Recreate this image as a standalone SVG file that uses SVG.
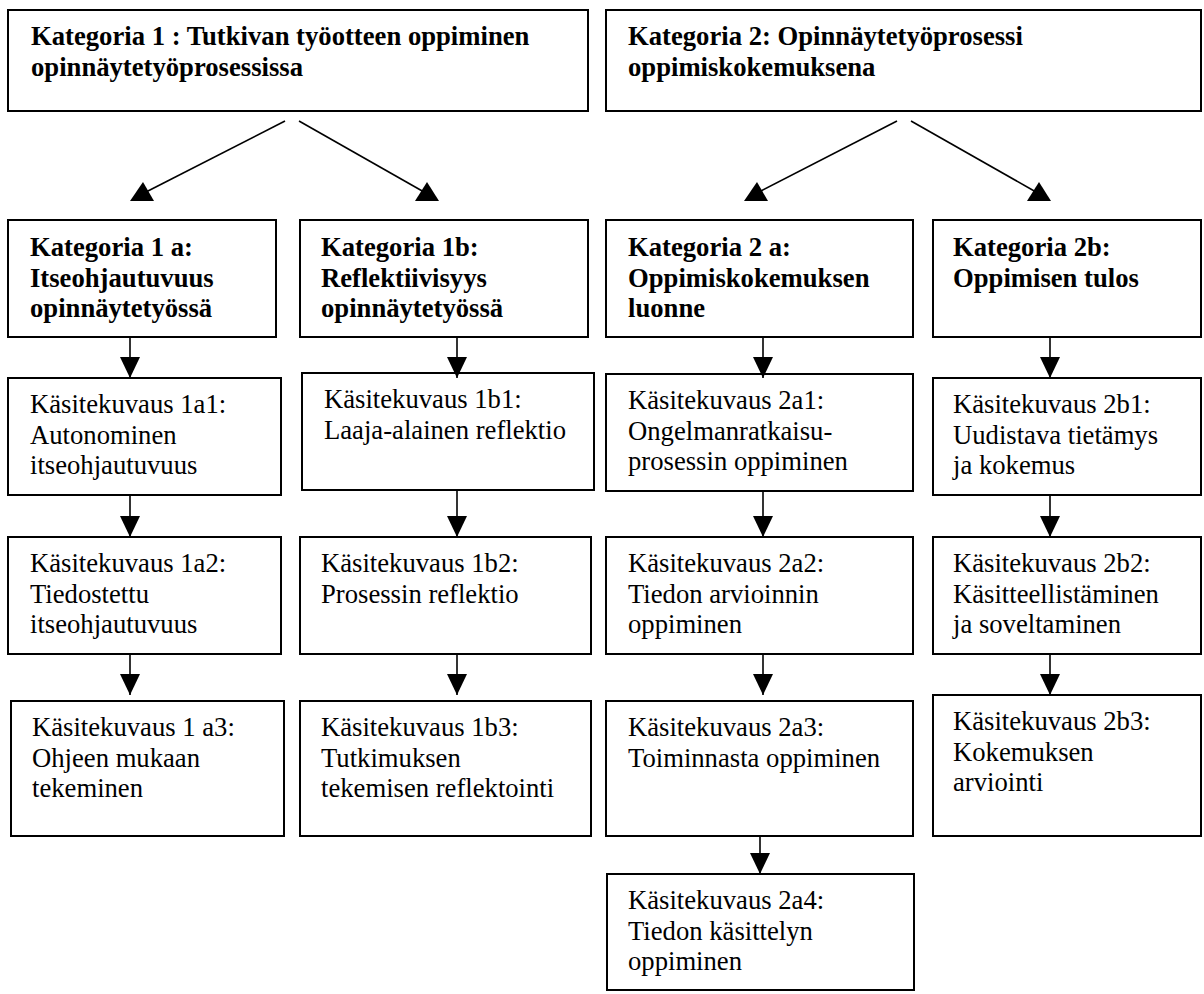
<svg xmlns="http://www.w3.org/2000/svg" width="1204" height="994" viewBox="0 0 1204 994">
  <style>
    .box { fill: #fff; stroke: #000; stroke-width: 2; }
    .t { font-size: 26.67px; fill: #000; }
    .b { font-weight: bold; }
    .ln { stroke: #000; stroke-width: 1.6; fill: none; }
    .hd { fill: #000; stroke: none; }
  </style>
  <defs>
    <marker id="down" markerUnits="userSpaceOnUse" viewBox="0 0 21 20" refX="21" refY="10" markerWidth="21" markerHeight="20" orient="auto">
      <path d="M0,0 L21,10 L0,20 z" fill="#000"/>
    </marker>
  </defs>
  <rect width="1204" height="994" fill="#fff"/>

  <g font-family="Liberation Serif, Tinos, Nimbus Roman, Times New Roman, Times, DejaVu Serif, serif">
  <!-- category 1 -->
  <g id="k1">
    <rect class="box" x="8" y="10" width="580" height="101"/>
    <text class="t b" x="31" y="45"><tspan x="31">Kategoria 1 : Tutkivan työotteen oppiminen</tspan><tspan x="31" dy="31">opinnäytetyöprosessissa</tspan></text>
  </g>
  <g id="k2">
    <rect class="box" x="606" y="10" width="595" height="101"/>
    <text class="t b" x="628" y="45"><tspan x="628">Kategoria 2: Opinnäytetyöprosessi</tspan><tspan x="628" dy="31">oppimiskokemuksena</tspan></text>
  </g>

  <!-- subcategories -->
  <g id="k1a">
    <rect class="box" x="8" y="220" width="268" height="117"/>
    <text class="t b" x="30" y="256"><tspan x="30">Kategoria 1 a:</tspan><tspan x="30" dy="30.7">Itseohjautuvuus</tspan><tspan x="30" dy="30.7">opinnäytetyössä</tspan></text>
  </g>
  <g id="k1b">
    <rect class="box" x="300" y="220" width="288" height="117"/>
    <text class="t b" x="321" y="256"><tspan x="321">Kategoria 1b:</tspan><tspan x="321" dy="30.7">Reflektiivisyys</tspan><tspan x="321" dy="30.7">opinnäytetyössä</tspan></text>
  </g>
  <g id="k2a">
    <rect class="box" x="606" y="220" width="307" height="117"/>
    <text class="t b" x="628" y="256"><tspan x="628">Kategoria 2 a:</tspan><tspan x="628" dy="30.7">Oppimiskokemuksen</tspan><tspan x="628" dy="30.7">luonne</tspan></text>
  </g>
  <g id="k2b">
    <rect class="box" x="933" y="220" width="268" height="117"/>
    <text class="t b" x="953" y="256"><tspan x="953">Kategoria 2b:</tspan><tspan x="953" dy="30.7">Oppimisen tulos</tspan></text>
  </g>

  <!-- column 1a -->
  <g id="k1a1">
    <rect class="box" x="8" y="378" width="273" height="117"/>
    <text class="t" x="30" y="413"><tspan x="30">Käsitekuvaus 1a1:</tspan><tspan x="30" dy="30.7">Autonominen</tspan><tspan x="30" dy="30.7">itseohjautuvuus</tspan></text>
  </g>
  <g id="k1a2">
    <rect class="box" x="8" y="537" width="273" height="117"/>
    <text class="t" x="30" y="572"><tspan x="30">Käsitekuvaus 1a2:</tspan><tspan x="30" dy="30.7">Tiedostettu</tspan><tspan x="30" dy="30.7">itseohjautuvuus</tspan></text>
  </g>
  <g id="k1a3">
    <rect class="box" x="11" y="701" width="273" height="135"/>
    <text class="t" x="32" y="736"><tspan x="32">Käsitekuvaus 1 a3:</tspan><tspan x="32" dy="30.7">Ohjeen mukaan</tspan><tspan x="32" dy="30.7">tekeminen</tspan></text>
  </g>

  <!-- column 1b -->
  <g id="k1b1">
    <rect class="box" x="302" y="373" width="292" height="117"/>
    <text class="t" x="324" y="408"><tspan x="324">Käsitekuvaus 1b1:</tspan><tspan x="324" dy="30.7">Laaja-alainen reflektio</tspan></text>
  </g>
  <g id="k1b2">
    <rect class="box" x="300" y="537" width="291" height="117"/>
    <text class="t" x="321" y="572"><tspan x="321">Käsitekuvaus 1b2:</tspan><tspan x="321" dy="30.7">Prosessin reflektio</tspan></text>
  </g>
  <g id="k1b3">
    <rect class="box" x="300" y="701" width="291" height="135"/>
    <text class="t" x="321" y="736"><tspan x="321">Käsitekuvaus 1b3:</tspan><tspan x="321" dy="30.7">Tutkimuksen</tspan><tspan x="321" dy="30.7">tekemisen reflektointi</tspan></text>
  </g>

  <!-- column 2a -->
  <g id="k2a1">
    <rect class="box" x="606" y="374" width="307" height="117"/>
    <text class="t" x="628" y="409"><tspan x="628">Käsitekuvaus 2a1:</tspan><tspan x="628" dy="30.7">Ongelmanratkaisu-</tspan><tspan x="628" dy="30.7">prosessin oppiminen</tspan></text>
  </g>
  <g id="k2a2">
    <rect class="box" x="606" y="537" width="307" height="117"/>
    <text class="t" x="628" y="572"><tspan x="628">Käsitekuvaus 2a2:</tspan><tspan x="628" dy="30.7">Tiedon arvioinnin</tspan><tspan x="628" dy="30.7">oppiminen</tspan></text>
  </g>
  <g id="k2a3">
    <rect class="box" x="606" y="701" width="307" height="135"/>
    <text class="t" x="628" y="736"><tspan x="628">Käsitekuvaus 2a3:</tspan><tspan x="628" dy="30.7">Toiminnasta oppiminen</tspan></text>
  </g>
  <g id="k2a4">
    <rect class="box" x="607" y="874" width="307" height="116"/>
    <text class="t" x="628" y="909"><tspan x="628">Käsitekuvaus 2a4:</tspan><tspan x="628" dy="30.7">Tiedon käsittelyn</tspan><tspan x="628" dy="30.7">oppiminen</tspan></text>
  </g>

  <!-- column 2b -->
  <g id="k2b1">
    <rect class="box" x="933" y="378" width="268" height="117"/>
    <text class="t" x="953" y="413"><tspan x="953">Käsitekuvaus 2b1:</tspan><tspan x="953" dy="30.7">Uudistava tietämys</tspan><tspan x="953" dy="30.7">ja kokemus</tspan></text>
  </g>
  <g id="k2b2">
    <rect class="box" x="933" y="537" width="268" height="117"/>
    <text class="t" x="953" y="572"><tspan x="953">Käsitekuvaus 2b2:</tspan><tspan x="953" dy="30.7">Käsitteellistäminen</tspan><tspan x="953" dy="30.7">ja soveltaminen</tspan></text>
  </g>
  <g id="k2b3">
    <rect class="box" x="933" y="695" width="268" height="141"/>
    <text class="t" x="953" y="730"><tspan x="953">Käsitekuvaus 2b3:</tspan><tspan x="953" dy="30.7">Kokemuksen</tspan><tspan x="953" dy="30.7">arviointi</tspan></text>
  </g>
  </g>

  <!-- connectors -->
  <g id="connectors">
    <!-- category splits -->
    <line class="ln" x1="285" y1="121" x2="146" y2="192"/>
    <polygon class="hd" points="130,201 154,201 143,182"/>
    <line class="ln" x1="299" y1="121" x2="424" y2="192"/>
    <polygon class="hd" points="415,201 439,201 427,182"/>
    <line class="ln" x1="897" y1="121" x2="759" y2="192"/>
    <polygon class="hd" points="744,201 768,201 757,182"/>
    <line class="ln" x1="911" y1="121" x2="1036" y2="192"/>
    <polygon class="hd" points="1027,201 1051,201 1039,182"/>

    <!-- subcategory to first description -->
    <line class="ln" x1="130" y1="337" x2="130" y2="378" marker-end="url(#down)"/>
    <line class="ln" x1="457" y1="337" x2="457" y2="378" marker-end="url(#down)"/>
    <line class="ln" x1="763" y1="337" x2="763" y2="378" marker-end="url(#down)"/>
    <line class="ln" x1="1050" y1="337" x2="1050" y2="378" marker-end="url(#down)"/>

    <!-- description chains -->
    <line class="ln" x1="130" y1="495" x2="130" y2="537" marker-end="url(#down)"/>
    <line class="ln" x1="457" y1="490" x2="457" y2="537" marker-end="url(#down)"/>
    <line class="ln" x1="763" y1="491" x2="763" y2="537" marker-end="url(#down)"/>
    <line class="ln" x1="1050" y1="495" x2="1050" y2="537" marker-end="url(#down)"/>

    <line class="ln" x1="130" y1="654" x2="130" y2="695" marker-end="url(#down)"/>
    <line class="ln" x1="457" y1="654" x2="457" y2="695" marker-end="url(#down)"/>
    <line class="ln" x1="763" y1="654" x2="763" y2="695" marker-end="url(#down)"/>
    <line class="ln" x1="1050" y1="654" x2="1050" y2="695" marker-end="url(#down)"/>

    <line class="ln" x1="760" y1="836" x2="760" y2="874" marker-end="url(#down)"/>
  </g>
</svg>
